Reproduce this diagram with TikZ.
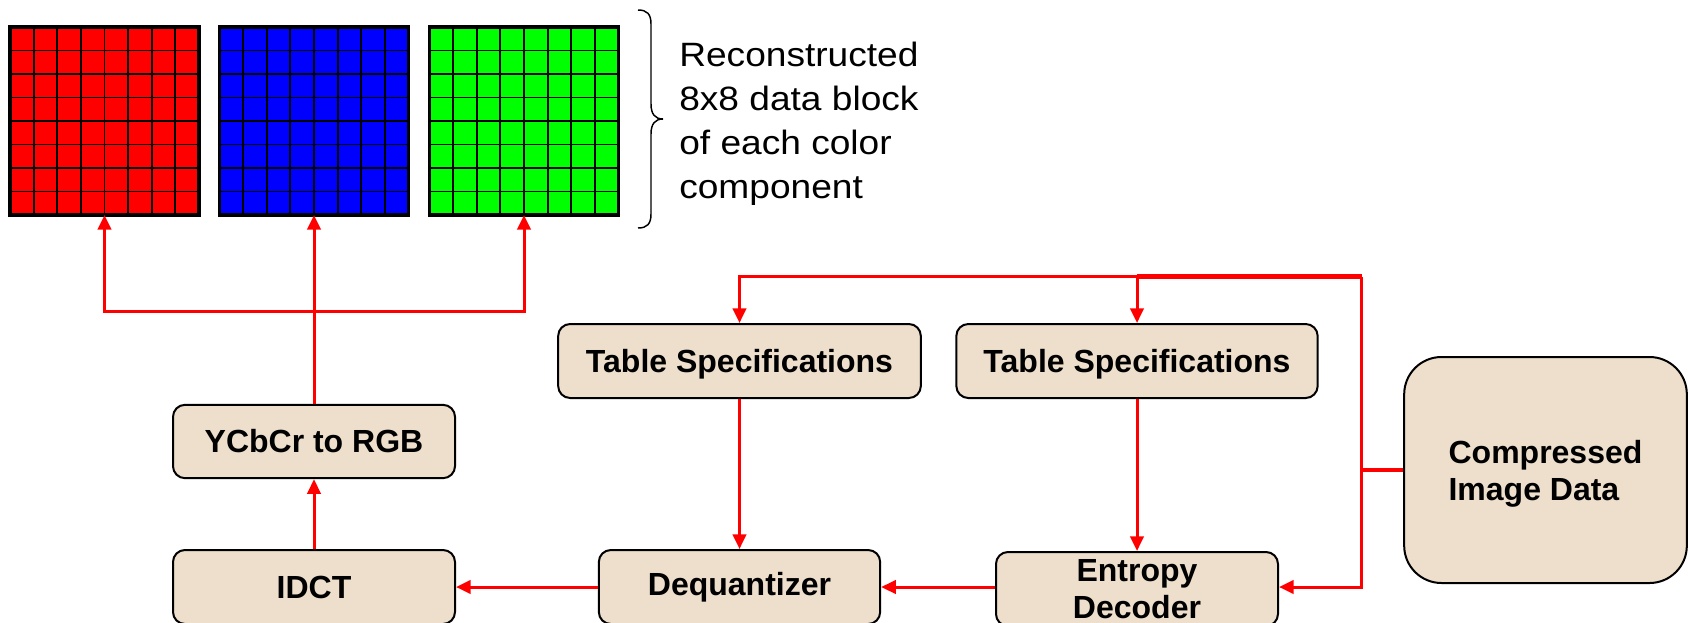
\documentclass[tikz,border=0pt]{standalone}
\usepackage{fontspec}
\setmainfont{Liberation Sans}
\newfontfamily\captionface[FakeStretch=1.1]{Liberation Sans}
\usetikzlibrary{arrows.meta,calc}
\definecolor{boxfill}{RGB}{237,223,204}
\definecolor{pureR}{RGB}{255,0,0}
\definecolor{pureG}{RGB}{0,255,0}
\definecolor{pureB}{RGB}{0,0,255}
\begin{document}
\begin{tikzpicture}[x=0.75pt,y=-0.75pt,
  stage/.style={draw=black,line width=1.5pt,fill=boxfill,rounded corners=9pt,
    inner sep=0pt,align=center,font=\fontsize{24}{27.75}\selectfont\bfseries},
  block/.style={draw=black,line width=2.6pt,outer sep=0pt,
    minimum width=141.75pt,minimum height=141pt,inner sep=0pt},
  cellline/.style={draw=black,line width=1.4pt},
  flow/.style={draw=pureR,line width=2.25pt},
  flowbold/.style={draw=pureR,line width=3.2pt},
  arrowed/.style={-{Triangle[length=11pt,width=10pt]}}]

\useasboundingbox (0,0) rectangle (1688,622);

% reconstructed 8x8 blocks
\node[block,fill=pureR] (rgrid) at (104.5,121) {};
\node[block,fill=pureB] (bgrid) at (314,121) {};
\node[block,fill=pureG] (ggrid) at (524,121) {};
\foreach \g in {rgrid,bgrid,ggrid}{
  \foreach \i in {1,...,7}{
    \draw[cellline] ($(\g.south west)!\i/8!(\g.south east)$) -- ($(\g.north west)!\i/8!(\g.north east)$);
    \draw[cellline] ($(\g.south west)!\i/8!(\g.north west)$) -- ($(\g.south east)!\i/8!(\g.north east)$);
  }
  \draw[draw=black,line width=2.6pt] (\g.south west) rectangle (\g.north east);
}

% brace and caption
\draw[line width=1.1pt] (638,10) .. controls (647,10) and (651,14) .. (651,24)
  -- (651,104) .. controls (651,114) and (655,119) .. (663,119)
  .. controls (655,119) and (651,124) .. (651,134)
  -- (651,214) .. controls (651,224) and (647,228) .. (638,228);
\node[anchor=west,align=left,inner sep=0pt,font=\captionface\fontsize{25.3}{33}\selectfont]
  (caption) at (679,124) {Reconstructed\\8x8 data block\\of each color\\component};

% processing stages
\node[stage,text depth=0pt,minimum width=272pt,minimum height=55.5pt] (ts1) at (739.5,361) {Table Specifications};
\node[stage,text depth=0pt,minimum width=271pt,minimum height=55.5pt] (ts2) at (1137,361) {Table Specifications};
\node[stage,minimum width=211.5pt,minimum height=55pt] (ycc) at (314,441.5) {YCbCr to RGB};
\node[stage,minimum width=211.5pt,minimum height=55.5pt] (idct) at (314,587) {IDCT};
\node[stage,minimum width=211pt,minimum height=55.5pt] (deq) at (739.5,587) {Dequantizer};
\node[stage,minimum width=211.5pt,minimum height=55.5pt] (ent) at (1137,589) {Entropy\\Decoder};
\node[stage,rounded corners=28pt,minimum width=212pt,minimum height=169.5pt,align=left,text depth=0pt]
  (cid) at (1545.5,470) {Compressed\\Image Data};

% junction points
\coordinate (split) at (314,311);
\coordinate (bus) at (1361.5,470);
\coordinate (top) at (1361.5,276.5);

% connectors
\draw[flowbold] (cid.west) -- (bus);
\draw[flow,arrowed] (bus) |- (deq.east -| ent.east);
\draw[flow] (bus) -- (top);
\draw[flowbold] (top) -- (ts2.north |- top);
\draw[flow,arrowed] (ts2.north |- top) -| (ts1.north);
\draw[flow,arrowed] (ts2.north |- top) -- (ts2.north);
\draw[flow,arrowed] (ts1.south) -- (deq.north);
\draw[flow,arrowed] (ts2.south) -- (ent.north);
\draw[flow,arrowed] (ent.west |- deq.east) -- (deq.east);
\draw[flow,arrowed] (deq.west) -- (idct.east);
\draw[flow,arrowed] (idct.north) -- (ycc.south);
\draw[flow] (ycc.north) -- (split);
\draw[flow,arrowed] (split) -- (bgrid.south);
\draw[flow,arrowed] (split) -| (rgrid.south);
\draw[flow,arrowed] (split) -| (ggrid.south);
\end{tikzpicture}
\end{document}
